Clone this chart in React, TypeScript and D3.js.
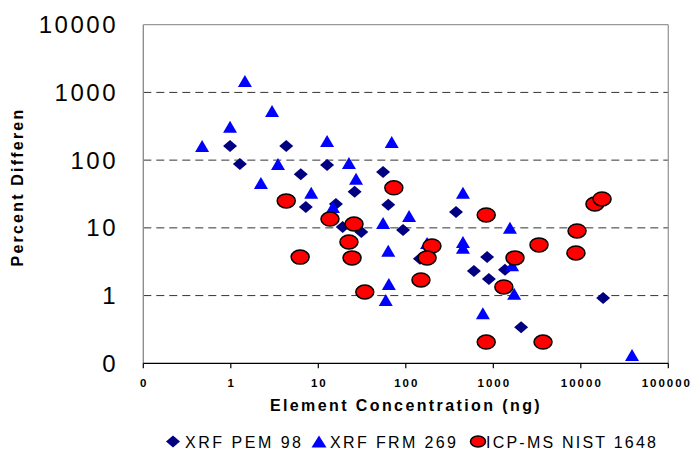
import * as d3 from "d3";

// XRF PEM 98 (diamonds)
const pemX = [0.98, 1.27, 4.3, 6.3, 12.6, 7.2, 15.9, 26, 55, 63, 19, 31, 93, 145, 375, 850, 600, 890, 1360, 2080, 18000];
const pemY = [162, 88, 162, 62, 85, 20.4, 22.5, 34, 67, 22, 10.3, 8.7, 9.3, 3.5, 17.2, 3.7, 2.3, 1.76, 2.4, 0.34, 0.92];

// XRF FRM 269 (triangles)
const frmX = [0.47, 1.45, 2.96, 0.98, 12.6, 3.46, 2.21, 8.3, 22.4, 27, 69, 14.7, 55, 109, 63, 64, 59, 175, 450, 450, 450, 1550, 1640, 1730, 760, 38500];
const frmY = [162, 1480, 530, 310, 192, 88, 46, 33, 91, 53, 186, 20.4, 11.8, 15, 4.6, 1.48, 0.86, 6.0, 33, 6.2, 5.1, 10, 2.8, 1.06, 0.55, 0.133];

// ICP-MS NIST 1648 (circles)
const icpX = [4.3, 6.2, 13.6, 25.6, 22.4, 24.3, 34, 73, 149, 199, 175, 830, 1770, 1320, 830, 3700, 3330, 9060, 8800, 14500, 17500];
const icpY = [25, 3.7, 13.5, 11.4, 6.2, 3.6, 1.13, 39, 1.7, 5.4, 3.6, 15.5, 3.6, 1.34, 0.206, 0.206, 5.6, 9.0, 4.26, 22.5, 26.7];

const xTicks = [0.1, 1, 10, 100, 1000, 10000, 100000];
const yTicks = [0.1, 1, 10, 100, 1000, 10000];
const gridValues = [1, 10, 100, 1000];

const tickLabel = (v: number) => (v < 1 ? "0" : String(v));

const font = "'Liberation Sans', Arial, sans-serif";

const diamond = (x: number, y: number, w: number, h: number) =>
  `M${x},${y - h}L${x + w},${y}L${x},${y + h}L${x - w},${y}Z`;
const triangle = (x: number, y: number, w: number, h: number) =>
  `M${x},${y - h}L${x + w},${y + h}L${x - w},${y + h}Z`;

export default function App() {
  const width = 694;
  const height = 450;
  const left = 143.3;
  const right = 668.3;
  const top = 24.7;
  const bottom = 363.3;

  const x = d3.scaleLog().domain([0.1, 100000]).range([left, right]);
  const y = d3.scaleLog().domain([0.1, 10000]).range([bottom, top]);

  return (
    <svg
      width={width}
      height={height}
      style={{ position: "absolute", left: 0, top: 0, background: "white" }}
      fontFamily={font}
    >
      {/* grid */}
      {gridValues.map((v) => (
        <line key={v} x1={left} x2={right} y1={y(v)} y2={y(v)} stroke="#333" strokeWidth={1} strokeDasharray="8,5" />
      ))}
      {/* frame */}
      <line x1={left} x2={right} y1={top} y2={top} stroke="#999" strokeWidth={1.3} />
      <line x1={right} x2={right} y1={top} y2={bottom} stroke="#999" strokeWidth={1.3} />
      <line x1={left} x2={left} y1={top} y2={bottom} stroke="#888" strokeWidth={1.3} />
      <line x1={left} x2={right} y1={bottom} y2={bottom} stroke="#000" strokeWidth={1.2} />

      {/* x ticks */}
      {xTicks.map((v) => (
        <g key={v}>
          <line x1={x(v)} x2={x(v)} y1={bottom} y2={bottom + 5} stroke="#000" strokeWidth={1.2} />
          <text
            x={v === 100000 ? 692 : x(v) + 1}
            y={387}
            textAnchor={v === 100000 ? "end" : "middle"}
            fontSize={11.5}
            fontWeight="bold"
            letterSpacing={2}
          >
            {tickLabel(v)}
          </text>
        </g>
      ))}
      {/* y ticks */}
      {yTicks.map((v) => (
        <text key={v} x={118} y={y(v) + 8.5} textAnchor="end" fontSize={24} letterSpacing={2.5}>
          {tickLabel(v)}
        </text>
      ))}

      {/* axis titles */}
      <text x={406} y={411} textAnchor="middle" fontSize={16} fontWeight="bold" letterSpacing={2.4}>
        Element Concentration (ng)
      </text>
      <text
        transform={`translate(22.5,187) rotate(-90)`}
        textAnchor="middle"
        fontSize={16}
        fontWeight="bold"
        letterSpacing={2.2}
      >
        Percent Differen
      </text>

      {/* series */}
      {pemX.map((v, i) => (
        <path key={`p${i}`} d={diamond(x(v), y(pemY[i]), 7, 6)} fill="#000080" />
      ))}
      {frmX.map((v, i) => (
        <path key={`f${i}`} d={triangle(x(v), y(frmY[i]), 7, 6)} fill="#0000ff" />
      ))}
      {icpX.map((v, i) => (
        <ellipse key={`c${i}`} cx={x(v)} cy={y(icpY[i])} rx={9} ry={7} fill="#ff0000" stroke="#000" strokeWidth={1.5} />
      ))}

      {/* legend */}
      <path d={diamond(173, 441.5, 7, 6)} fill="#000080" />
      <text x={185} y={448} fontSize={16} textLength={116} lengthAdjust="spacing">
        XRF PEM 98
      </text>
      <path d={triangle(319, 441.5, 7.5, 6)} fill="#0000ff" />
      <text x={330} y={448} fontSize={16} textLength={126} lengthAdjust="spacing">
        XRF FRM 269
      </text>
      <ellipse cx={478} cy={441.5} rx={7.5} ry={5.5} fill="#ff0000" stroke="#000" strokeWidth={1.5} />
      <text x={486} y={448} fontSize={16} textLength={170} lengthAdjust="spacing">
        ICP-MS NIST 1648
      </text>
    </svg>
  );
}
